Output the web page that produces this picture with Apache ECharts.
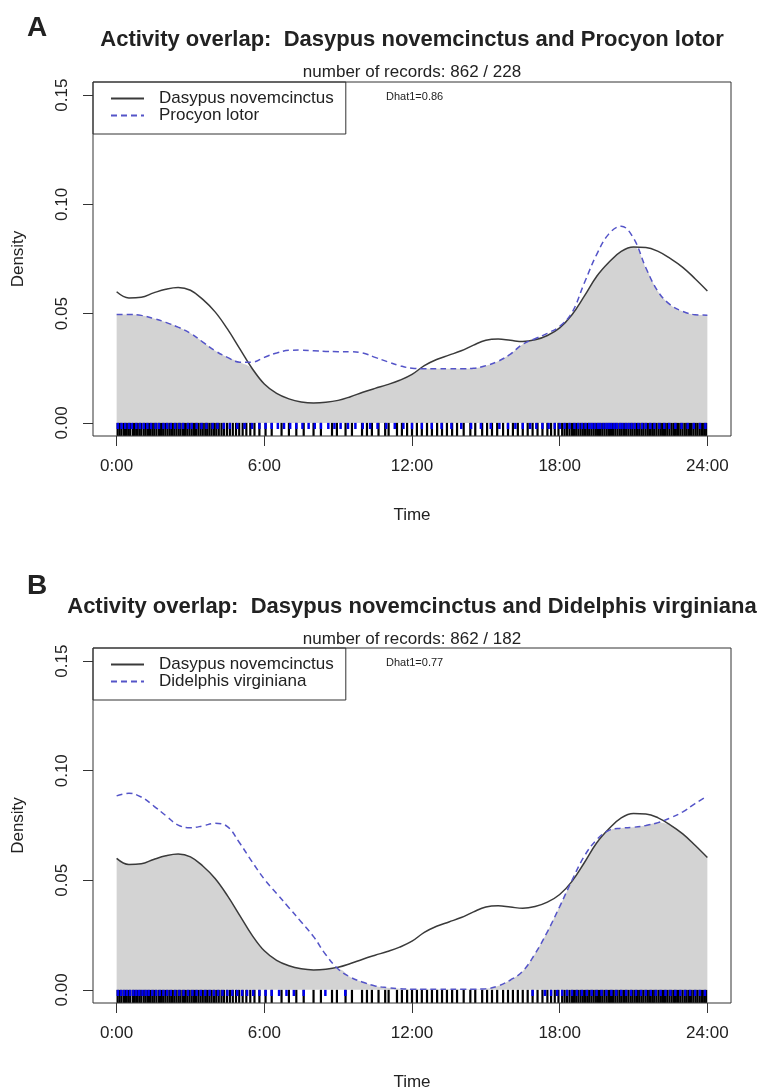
<!DOCTYPE html>
<html>
<head>
<meta charset="utf-8">
<script src="https://cdn.jsdelivr.net/npm/echarts@6/dist/echarts.min.js"></script>
<style>
  html, body { margin: 0; padding: 0; background: #fff; }
  #chart { width: 757px; height: 1090px; }
</style>
</head>
<body>
<div id="chart"></div>
<script>
  // time of day (hours) at which the density curves were read
  const hours = [0, 0.5, 1, 1.5, 2, 2.5, 3, 3.5, 4, 4.5, 5, 5.5, 6, 6.5, 7, 7.5, 8, 8.5, 9, 9.5,
    10, 10.5, 11, 11.5, 12, 12.5, 13, 13.5, 14, 14.5, 15, 15.5, 16, 16.5, 17, 17.5, 18, 18.5, 19, 19.5,
    20, 20.5, 21, 21.5, 22, 22.5, 23, 23.5, 24];

  const dasypus = [0.0600, 0.0572, 0.0575, 0.0595, 0.0612, 0.0620, 0.0607, 0.0565, 0.0508, 0.0430,
    0.0340, 0.0250, 0.0178, 0.0135, 0.0110, 0.0096, 0.0091, 0.0094, 0.0103, 0.0120,
    0.0140, 0.0158, 0.0175, 0.0195, 0.0222, 0.0262, 0.0290, 0.0310, 0.0330, 0.0356,
    0.0378, 0.0384, 0.0378, 0.0372, 0.0380, 0.0400, 0.0435, 0.0495, 0.0580, 0.0670,
    0.0735, 0.0785, 0.0805, 0.0803, 0.0785, 0.0752, 0.0712, 0.0660, 0.0604];

  const procyon = [0.0496, 0.0496, 0.0492, 0.0478, 0.0460, 0.0438, 0.0410, 0.0370, 0.0330, 0.0300,
    0.0278, 0.0278, 0.0300, 0.0320, 0.0332, 0.0333, 0.0330, 0.0327, 0.0326, 0.0326,
    0.0320, 0.0300, 0.0280, 0.0262, 0.0250, 0.0248, 0.0248, 0.0248, 0.0248, 0.0250,
    0.0262, 0.0282, 0.0315, 0.0360, 0.0385, 0.0410, 0.0442, 0.0505, 0.0640, 0.0770,
    0.0865, 0.0900, 0.0845, 0.0710, 0.0600, 0.0540, 0.0510, 0.0495, 0.0493];

  const didelphis = [0.0885, 0.0897, 0.0880, 0.0840, 0.0795, 0.0752, 0.0740, 0.0748, 0.0760, 0.0745,
    0.0670, 0.0585, 0.0505, 0.0440, 0.0375, 0.0310, 0.0243, 0.0160, 0.0095, 0.0058,
    0.0035, 0.0018, 0.0010, 0.0005, 0.0003, 0.0003, 0.0003, 0.0003, 0.0003, 0.0003,
    0.0005, 0.0018, 0.0045, 0.0085, 0.0165, 0.0265, 0.0380, 0.0500, 0.0610, 0.0685,
    0.0728, 0.0738, 0.0742, 0.0750, 0.0763, 0.0785, 0.0812, 0.0850, 0.0885];

  // rug: record times (hours)
  const rugDasypus = [0.04, 0.12, 0.2, 0.3, 0.38, 0.47, 0.55, 0.66, 0.74, 0.83, 0.92, 1.0, 1.1, 1.18, 1.27,
    1.36, 1.45, 1.53, 1.62, 1.72, 1.8, 1.89, 1.98, 2.07, 2.16, 2.25, 2.34, 2.43, 2.52, 2.6, 2.7, 2.78,
    2.87, 2.96, 3.05, 3.14, 3.22, 3.32, 3.41, 3.5, 3.6, 3.68, 3.77, 3.86, 3.96, 4.05, 4.15, 4.26, 4.36,
    4.48, 4.6, 4.72, 4.85, 4.98, 5.12, 5.27, 5.43, 5.6, 5.8, 6.05, 6.3, 6.7, 7.0, 7.3, 7.6, 8.0, 8.3,
    8.75, 8.95, 9.3, 9.56, 9.97, 10.17, 10.37, 10.64, 10.91, 11.05, 11.39, 11.59, 11.8, 12.0, 12.2,
    12.4, 12.61, 12.81, 13.02, 13.22, 13.42, 13.63, 13.83, 14.1, 14.37, 14.57, 14.85, 15.05, 15.25,
    15.46, 15.7, 15.9, 16.1, 16.3, 16.5, 16.7, 16.9, 17.1, 17.3, 17.5, 17.65, 17.8, 17.95, 18.1, 18.2,
    18.3, 18.4, 18.5, 18.58, 18.67, 18.76, 18.85, 18.94, 19.03, 19.12, 19.2, 19.29, 19.38, 19.47,
    19.56, 19.64, 19.73, 19.82, 19.91, 20.0, 20.08, 20.17, 20.26, 20.35, 20.44, 20.52, 20.61, 20.7,
    20.79, 20.88, 20.96, 21.05, 21.14, 21.23, 21.32, 21.4, 21.49, 21.58, 21.67, 21.76, 21.84, 21.93,
    22.02, 22.11, 22.2, 22.28, 22.37, 22.46, 22.55, 22.64, 22.72, 22.81, 22.9, 22.99, 23.08, 23.16,
    23.25, 23.34, 23.43, 23.52, 23.6, 23.69, 23.78, 23.87, 23.95];

  const rugProcyon = [0.05, 0.2, 0.35, 0.5, 0.62, 0.8, 0.95, 1.1, 1.25, 1.4, 1.58, 1.72, 1.9, 2.05, 2.2,
    2.38, 2.55, 2.7, 2.9, 3.05, 3.25, 3.45, 3.65, 3.9, 4.1, 4.35, 4.6, 4.9, 5.2, 5.5, 5.8, 6.05, 6.3,
    6.55, 6.8, 7.05, 7.3, 7.55, 7.8, 8.05, 8.3, 8.6, 8.85, 9.1, 9.4, 9.7, 10.0, 10.3, 10.6, 10.95, 11.3,
    11.65, 12.0, 12.4, 12.8, 13.2, 13.6, 14.0, 14.4, 14.8, 15.2, 15.55, 15.9, 16.2, 16.5, 16.8, 17.05,
    17.3, 17.55, 17.8, 18.0, 18.2, 18.4, 18.6, 18.75, 18.9, 19.05, 19.2, 19.3, 19.42, 19.55, 19.65,
    19.78, 19.9, 20.0, 20.1, 20.22, 20.32, 20.45, 20.55, 20.68, 20.8, 20.92, 21.05, 21.2, 21.35, 21.5,
    21.68, 21.85, 22.05, 22.25, 22.45, 22.7, 22.95, 23.2, 23.45, 23.7, 23.92];

  const rugDidelphis = [0.05, 0.18, 0.3, 0.42, 0.55, 0.68, 0.8, 0.92, 1.05, 1.18, 1.3, 1.45, 1.6, 1.75,
    1.9, 2.05, 2.2, 2.38, 2.55, 2.72, 2.9, 3.08, 3.25, 3.42, 3.6, 3.78, 3.95, 4.12, 4.3, 4.5, 4.7, 4.9,
    5.1, 5.3, 5.55, 5.8, 6.05, 6.3, 6.6, 6.9, 7.2, 7.6, 8.48, 9.29, 16.9, 17.4, 17.65, 17.9, 18.1, 18.3,
    18.5, 18.7, 18.9, 19.1, 19.3, 19.5, 19.7, 19.9, 20.1, 20.3, 20.5, 20.7, 20.9, 21.1, 21.3, 21.5,
    21.7, 21.9, 22.1, 22.3, 22.5, 22.7, 22.9, 23.1, 23.3, 23.5, 23.7, 23.9];

  const timeTicks = [0, 6, 12, 18, 24];
  const timeTickLabels = ['0:00', '6:00', '12:00', '18:00', '24:00'];
  const densityTicks = [0, 0.05, 0.1, 0.15];
  const densityTickLabels = ['0.00', '0.05', '0.10', '0.15'];

  const FONT = '"Liberation Sans", Arial, sans-serif';
  const INK = '#222';
  const BLUE_LINE = '#5454c8';

  const chart = echarts.init(document.getElementById('chart'));

  const grids = [
    {left: 93, top: 82, width: 638, height: 354},
    {left: 93, top: 648, width: 638, height: 355}
  ];

  function pairs(vals) {
    return hours.map((h, i) => [h, vals[i]]);
  }

  function rugSeries(idx, times, color, depth, width) {
    return {
      type: 'custom',
      xAxisIndex: idx, yAxisIndex: idx,
      silent: true,
      z: 4,
      data: times.map(t => [t, 0]),
      encode: {x: 0, y: 1},
      renderItem: function (params, api) {
        const p1 = api.coord([api.value(0), 0]);
        const p2 = api.coord([api.value(0), depth]);
        return {
          type: 'line',
          shape: {x1: p1[0], y1: p1[1], x2: p2[0], y2: p2[1]},
          style: {stroke: color, lineWidth: width}
        };
      }
    };
  }

  function panelSeries(idx, otherName, other, otherRug) {
    return [
      {
        type: 'line', xAxisIndex: idx, yAxisIndex: idx,
        data: pairs(dasypus.map((v, i) => Math.min(v, other[i]))),
        smooth: 0.4, symbol: 'none', silent: true, z: 1,
        lineStyle: {width: 0},
        areaStyle: {color: '#d3d3d3', opacity: 1}
      },
      rugSeries(idx, rugDasypus, '#000', -0.0059, 2.2),
      rugSeries(idx, otherRug, '#0000ee', -0.0028, 2.5),
      {
        name: 'Dasypus novemcinctus', type: 'line', xAxisIndex: idx, yAxisIndex: idx,
        data: pairs(dasypus), smooth: 0.4, symbol: 'none', z: 5,
        itemStyle: {color: '#3a3a3a'},
        lineStyle: {color: '#3a3a3a', width: 1.5}
      },
      {
        name: otherName, type: 'line', xAxisIndex: idx, yAxisIndex: idx,
        data: pairs(other), smooth: 0.4, symbol: 'none', z: 5,
        itemStyle: {color: BLUE_LINE},
        lineStyle: {color: BLUE_LINE, width: 1.5, type: [6, 4]}
      }
    ];
  }

  function xAxisFor(idx) {
    return {
      type: 'value', gridIndex: idx, min: -0.96, max: 24.96,
      name: 'Time', nameLocation: 'middle', nameGap: 71,
      nameTextStyle: {fontFamily: FONT, fontSize: 17, color: INK},
      axisLine: {show: false, onZero: false},
      splitLine: {show: false},
      axisTick: {show: true, inside: false, length: 10, customValues: timeTicks,
        lineStyle: {color: '#333', width: 1}},
      axisLabel: {customValues: timeTicks, margin: 22, fontFamily: FONT, fontSize: 17, color: INK,
        formatter: v => timeTickLabels[timeTicks.indexOf(v)]}
    };
  }

  function yAxisFor(idx) {
    return {
      type: 'value', gridIndex: idx, min: -0.006, max: 0.156,
      name: 'Density', nameLocation: 'middle', nameGap: 66, nameRotate: 90,
      nameTextStyle: {fontFamily: FONT, fontSize: 17, color: INK},
      axisLine: {show: false, onZero: false},
      splitLine: {show: false},
      axisTick: {show: true, inside: false, length: 10, customValues: densityTicks,
        lineStyle: {color: '#333', width: 1}},
      axisLabel: {customValues: densityTicks, rotate: 90, margin: 22, fontFamily: FONT, fontSize: 17,
        color: INK, formatter: v => densityTickLabels[densityTicks.indexOf(v)]}
    };
  }

  function legendFor(idx, otherName) {
    return {
      data: ['Dasypus novemcinctus', otherName],
      left: 93, top: grids[idx].top,
      orient: 'vertical',
      borderColor: '#333', borderWidth: 1, borderRadius: 0,
      padding: [8, 12, 10, 17],
      itemWidth: 33, itemHeight: 12, itemGap: 0,
      selectedMode: false,
      itemStyle: {opacity: 0},
      textStyle: {fontFamily: FONT, fontSize: 17, color: INK, lineHeight: 16, padding: [0, 0, 0, 10]}
    };
  }

  function txt(x, y, text, font, align) {
    return {
      type: 'text', x: x, y: y, silent: true,
      style: {text: text, font: font, fill: INK, align: align || 'center', verticalAlign: 'middle'}
    };
  }

  chart.setOption({
    animation: false,
    backgroundColor: '#fff',
    grid: grids.map(g => Object.assign({show: true, borderColor: '#333', borderWidth: 1,
      backgroundColor: 'transparent', outerBoundsMode: 'none'}, g)),
    xAxis: [xAxisFor(0), xAxisFor(1)],
    yAxis: [yAxisFor(0), yAxisFor(1)],
    legend: [legendFor(0, 'Procyon lotor'), legendFor(1, 'Didelphis virginiana')],
    graphic: [
      txt(37, 28, 'A', 'bold 28px ' + FONT),
      txt(412, 40, 'Activity overlap:  Dasypus novemcinctus and Procyon lotor', 'bold 22px ' + FONT),
      txt(412, 72, 'number of records: 862 / 228', '17px ' + FONT),
      txt(386, 97, 'Dhat1=0.86', '11px ' + FONT, 'left'),
      txt(37, 586, 'B', 'bold 28px ' + FONT),
      txt(412, 607, 'Activity overlap:  Dasypus novemcinctus and Didelphis virginiana', 'bold 22px ' + FONT),
      txt(412, 639, 'number of records: 862 / 182', '17px ' + FONT),
      txt(386, 663, 'Dhat1=0.77', '11px ' + FONT, 'left')
    ],
    series: panelSeries(0, 'Procyon lotor', procyon, rugProcyon)
      .concat(panelSeries(1, 'Didelphis virginiana', didelphis, rugDidelphis))
  });
</script>
</body>
</html>
